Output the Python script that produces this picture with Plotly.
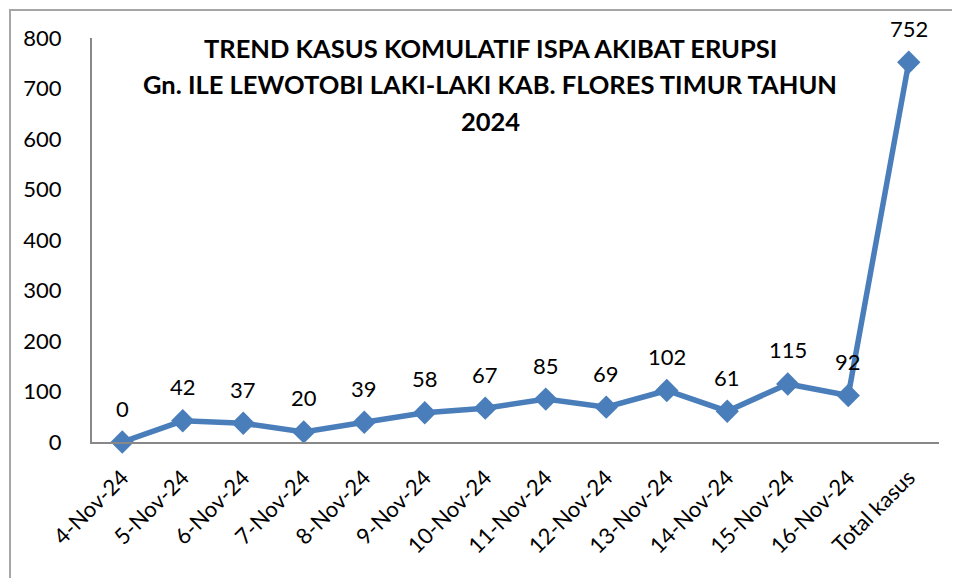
import plotly.graph_objects as go

categories = ["4-Nov-24", "5-Nov-24", "6-Nov-24", "7-Nov-24", "8-Nov-24", "9-Nov-24",
              "10-Nov-24", "11-Nov-24", "12-Nov-24", "13-Nov-24", "14-Nov-24",
              "15-Nov-24", "16-Nov-24", "Total kasus"]
values = [0, 42, 37, 20, 39, 58, 67, 85, 69, 102, 61, 115, 92, 752]
y_ticks = [0, 100, 200, 300, 400, 500, 600, 700, 800]
title_lines = ["TREND KASUS KOMULATIF ISPA AKIBAT ERUPSI",
               "Gn. ILE LEWOTOBI LAKI-LAKI KAB. FLORES TIMUR TAHUN",
               "2024"]

OFF = 8  # page body margin
W, H = 960 - OFF, 578 - OFF
L, R, T, B = 92 - OFF, 21, 38 - OFF, 135.5
pw, ph = W - L - R, H - T - B

font_main = "Lato, 'Open Sans', sans-serif"
blue = "#4A7EBB"


def sx(px):  # screen px -> paper x
    return (px - OFF - L) / pw


def sy(py):  # screen px -> paper y
    return (H - B - (py - OFF)) / ph


fig = go.Figure()
fig.add_trace(go.Scatter(
    x=categories, y=values, mode="lines+markers",
    line=dict(color=blue, width=5.5),
    marker=dict(symbol="diamond", size=18, color=blue),
    cliponaxis=False, showlegend=False,
))

annotations = []
# chart frame (left and top edges visible)
annotations.append(dict(
    text=" ", x=sx(9), y=sy(9), xref="paper", yref="paper",
    xanchor="left", yanchor="top", showarrow=False,
    width=1100, height=700, borderwidth=2, bordercolor="#A6A6A6",
    bgcolor="rgba(0,0,0,0)", borderpad=0,
))

for c, v in zip(categories, values):
    annotations.append(dict(
        x=c, y=v, xref="x", yref="y", text=str(v), showarrow=False,
        yshift=34, xanchor="center", yanchor="middle",
        font=dict(family=font_main, size=22, color="#000000"),
    ))

for line, ypx in zip(title_lines, [48, 84, 121]):
    annotations.append(dict(
        text=line, x=sx(490), y=sy(ypx), xref="paper", yref="paper",
        xanchor="center", yanchor="middle", showarrow=False,
        font=dict(family=font_main, size=25.5, color="#000000", weight="bold"),
    ))

fig.update_layout(
    width=W, height=H,
    margin=dict(l=L, r=R, t=T, b=B, autoexpand=False),
    paper_bgcolor="white", plot_bgcolor="white",
    font=dict(family=font_main, size=22, color="#000000"),
    xaxis=dict(
        type="category", tickangle=-45, showgrid=False, ticks="",
        showline=True, linecolor="#888888", linewidth=2,
        tickfont=dict(size=22), range=[-0.5, len(categories) - 0.5],
        ticklabelstandoff=12, automargin=False,
    ),
    yaxis=dict(
        range=[0, 800], tickvals=y_ticks, showgrid=False, ticks="",
        showline=True, linecolor="#888888", linewidth=2,
        tickfont=dict(size=22), zeroline=False, ticklabelstandoff=24,
        automargin=False,
    ),
    annotations=annotations,
    shapes=[
        dict(type="line", xref="paper", yref="paper", layer="above",
             x0=sx(10), x1=sx(10), y0=sy(10), y1=sy(577),
             line=dict(color="#A6A6A6", width=2)),
        dict(type="line", xref="paper", yref="paper", layer="above",
             x0=sx(10), x1=sx(959), y0=sy(10), y1=sy(10),
             line=dict(color="#A6A6A6", width=2)),
    ],
)

fig.write_html("out.html")
